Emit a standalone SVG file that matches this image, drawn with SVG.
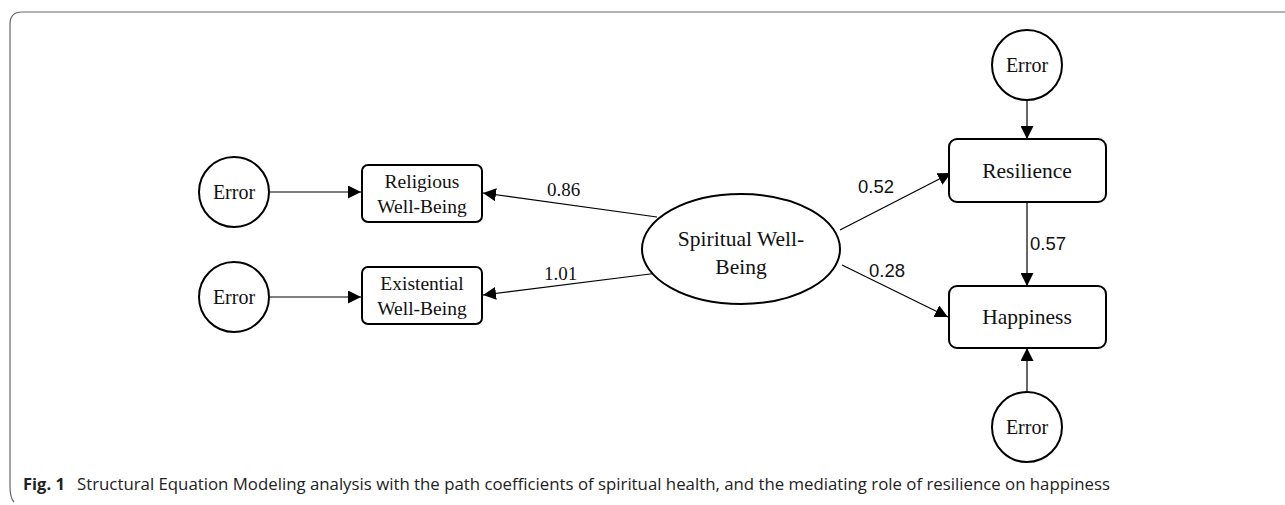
<svg xmlns="http://www.w3.org/2000/svg" width="1285" height="505" viewBox="0 0 1285 505">
<style>
.nd{fill:#fff;stroke:#000;stroke-width:2}
.t{font-family:"Liberation Serif",serif;fill:#111;text-anchor:middle}
.e{font-size:20px}
.b{font-size:19.5px}
.big{font-size:21.5px}
.c{stroke:#000;stroke-width:1.2;fill:none;marker-end:url(#ah)}
.num{font-family:"Liberation Serif",serif;font-size:19px;fill:#111}
.nums{font-family:"Liberation Sans",sans-serif;font-size:18.5px;fill:#111}
.cap{font-family:"Open Sans","Liberation Sans",sans-serif;font-size:16.5px;fill:#222}
</style>
<defs>
<marker id="ah" viewBox="0 0 10 10" refX="10" refY="5" markerWidth="13" markerHeight="13" markerUnits="userSpaceOnUse" orient="auto">
<path d="M0,0 L10,5 L0,10 z" fill="#000"/>
</marker>
</defs>
<rect width="1285" height="505" fill="#fff"/>
<path d="M1285,12 H22 Q10,12 10,24 V486 Q10,498 14,502" fill="none" stroke="#666" stroke-width="1.2"/>
<g id="connectors">
<line class="c" x1="270" y1="192" x2="361" y2="192"/>
<line class="c" x1="270" y1="297" x2="361" y2="297"/>
<line class="c" x1="657" y1="217" x2="483" y2="193"/>
<line class="c" x1="658" y1="273" x2="483" y2="295"/>
<line class="c" x1="840" y1="230" x2="951" y2="173"/>
<line class="c" x1="842" y1="265" x2="948" y2="317"/>
<line class="c" x1="1027" y1="97" x2="1027" y2="139"/>
<line class="c" x1="1027" y1="202" x2="1027" y2="286"/>
<line class="c" x1="1027" y1="392" x2="1027" y2="348"/>
<text class="num" x="547" y="196">0.86</text>
<text class="num" x="544" y="280">1.01</text>
<text class="nums" x="858" y="193">0.52</text>
<text class="nums" x="869" y="277">0.28</text>
<text class="nums" x="1030" y="250">0.57</text>
</g>
<g id="err1"><circle class="nd" cx="234" cy="192" r="35"/><text class="t e" x="234" y="199">Error</text></g>
<g id="err2"><circle class="nd" cx="234" cy="297" r="35"/><text class="t e" x="234" y="304">Error</text></g>
<g id="religious"><rect class="nd" x="362" y="165" width="120" height="57" rx="6"/><text class="t b" x="422" y="188">Religious</text><text class="t b" x="422" y="213">Well-Being</text></g>
<g id="existential"><rect class="nd" x="362" y="267" width="120" height="57" rx="6"/><text class="t b" x="422" y="290">Existential</text><text class="t b" x="422" y="315">Well-Being</text></g>
<g id="spiritual"><ellipse class="nd" cx="741" cy="249" rx="99" ry="55"/><text class="t big" x="741" y="246">Spiritual Well-</text><text class="t big" x="741" y="274">Being</text></g>
<g id="err3"><circle class="nd" cx="1027" cy="65" r="35"/><text class="t e" x="1027" y="72">Error</text></g>
<g id="resilience"><rect class="nd" x="949" y="139" width="157" height="63" rx="8"/><text class="t big" x="1027" y="178">Resilience</text></g>
<g id="happiness"><rect class="nd" x="949" y="286" width="157" height="62" rx="8"/><text class="t big" x="1027" y="324">Happiness</text></g>
<g id="err4"><circle class="nd" cx="1027" cy="427" r="35"/><text class="t e" x="1027" y="434">Error</text></g>
<text class="cap" x="23" y="490"><tspan font-weight="bold">Fig. 1</tspan><tspan x="77" textLength="1033" lengthAdjust="spacingAndGlyphs">Structural Equation Modeling analysis with the path coefficients of spiritual health, and the mediating role of resilience on happiness</tspan></text>
</svg>
